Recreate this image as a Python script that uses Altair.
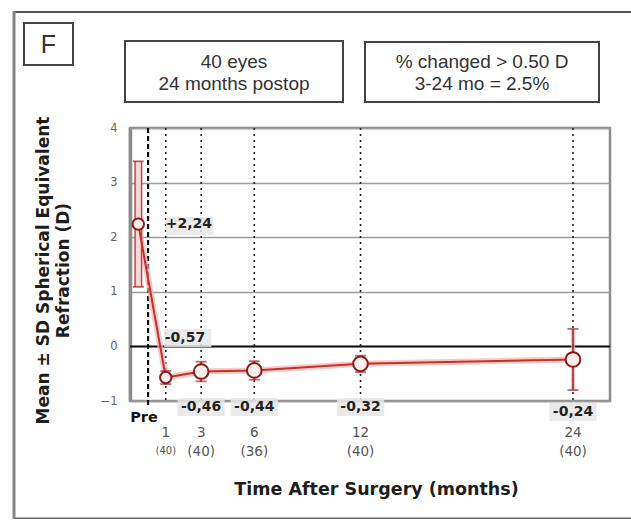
import altair as alt
import pandas as pd

# Mean spherical equivalent refraction (D) with SD at each visit.
# The preoperative mean is plotted just left of month 0.
point_month = [-0.55, 1, 3, 6, 12, 24]
mean_se = [2.24, -0.57, -0.46, -0.44, -0.32, -0.24]
sd_se = [1.15, 0.12, 0.18, 0.17, 0.15, 0.56]

# Visit labels on the time axis and number of eyes at each visit
tick_month = [0, 1, 3, 6, 12, 24]
tick_label = ["Pre", "1", "3", "6", "12", "24"]
eyes_count = ["", "(40)", "(40)", "(36)", "(40)", "(40)"]

y_ticks = [4, 3, 2, 1, 0, -1]

W, H = 480, 273
FONT = "DejaVu Sans"
BOX_FONT = "Liberation Sans"


def fmt(v):
    return f"{v:+.2f}".replace(".", ",")


pts = pd.DataFrame({
    "idx": list(range(len(mean_se))),
    "month": point_month,
    "mean": mean_se,
    "lo": [m - s for m, s in zip(mean_se, sd_se)],
    "hi": [m + s for m, s in zip(mean_se, sd_se)],
    "label": [fmt(v) for v in mean_se],
})
ticks = pd.DataFrame({
    "idx": list(range(len(tick_month))),
    "month": tick_month,
    "tick": tick_label,
    "count": eyes_count,
})
one = pd.DataFrame({"k": [0]})

x_scale = alt.Scale(domain=[-1.02, 26.09], nice=False, zero=False)
y_scale = alt.Scale(domain=[-1, 4], nice=False, zero=False)

x_enc = alt.X(
    "month:Q", scale=x_scale,
    axis=alt.Axis(labels=False, ticks=False, domain=False, grid=False,
                  title="Time After Surgery (months)", titleFont=FONT,
                  titleFontSize=17.5, titleFontWeight="bold", titleColor="#1e1e1e",
                  titleX=246, titleY=88, titleBaseline="middle"),
)
y_axis = alt.Axis(
    values=y_ticks, format="d", ticks=False, labelPadding=13,
    labelColor="#666666", labelFontSize=11.5, labelFont=FONT,
    grid=True, gridColor="#9c9c9c", gridWidth=1.5,
    domainColor="#8c8c8c", domainWidth=3.5,
    title=["Mean \u00b1 SD Spherical Equivalent", "Refraction (D)"],
    titleFont=FONT, titleFontSize=17, titleFontWeight="bold", titleColor="#1e1e1e",
    titleAngle=-90, titleX=-95, titleY=142, titleAlign="center",
    titleBaseline="top", titleLineHeight=20,
)
y_enc = alt.Y("mean:Q", scale=y_scale, axis=y_axis)

# ---- figure frame (open on the right), drawn as thin filled bands ----
frame_top = alt.Chart(one).mark_rect(color="#555555").encode(
    x=alt.value(-116), x2=alt.value(W + 21), y=alt.value(-117), y2=alt.value(-115))
frame_bottom = alt.Chart(one).mark_rect(color="#666666").encode(
    x=alt.value(-116), x2=alt.value(W + 21), y=alt.value(389.5), y2=alt.value(391))
frame_left = alt.Chart(one).mark_rect(color="#858585").encode(
    x=alt.value(-117.5), x2=alt.value(-114.5), y=alt.value(-117), y2=alt.value(391))

# ---- panel letter and annotation boxes ----
letter_box = alt.Chart(one).mark_rect(fill="white", stroke="#444444", strokeWidth=2).encode(
    x=alt.value(-106), x2=alt.value(-57), y=alt.value(-105), y2=alt.value(-63))
letter = alt.Chart(one).mark_text(text="F", font=BOX_FONT, fontSize=25, color="#333333",
                                   baseline="middle", align="center").encode(
    x=alt.value(-81.5), y=alt.value(-83))

box_text_style = dict(font=BOX_FONT, fontSize=19, color="#333333", lineHeight=22,
                      baseline="middle", align="center")
box1 = alt.Chart(one).mark_rect(fill="white", stroke="#444444", strokeWidth=2).encode(
    x=alt.value(-5), x2=alt.value(213), y=alt.value(-87), y2=alt.value(-26))
box1_text = alt.Chart(one).mark_text(text=["40 eyes", "24 months postop"], **box_text_style).encode(
    x=alt.value(104), y=alt.value(-66))
box2 = alt.Chart(one).mark_rect(fill="white", stroke="#444444", strokeWidth=2).encode(
    x=alt.value(235), x2=alt.value(469), y=alt.value(-86), y2=alt.value(-26))
box2_text = alt.Chart(one).mark_text(text=["% changed > 0.50 D", "3-24 mo = 2.5%"], **box_text_style).encode(
    x=alt.value(352), y=alt.value(-66))

# ---- plot grid: y gridlines via the axis, visit lines, zero line ----
grid_base = alt.Chart(pts).mark_point(opacity=0).encode(x=x_enc, y=y_enc)

visit_lines = alt.Chart(ticks).transform_filter("datum.month > 0").mark_rule(
    color="#222222", strokeWidth=1.6, strokeDash=[2, 4]).encode(
    x=x_enc, y=alt.value(0), y2=alt.value(H))
pre_line = alt.Chart(ticks).transform_filter("datum.month == 0").mark_rule(
    color="#111111", strokeWidth=2.2, strokeDash=[5, 3]).encode(
    x=x_enc, y=alt.value(0), y2=alt.value(H + 4))
zero_line = alt.Chart(one).mark_rule(color="#111111", strokeWidth=2).encode(
    x=alt.value(0), x2=alt.value(W), y=alt.datum(0))

# ---- mean line with a soft halo ----
halo = alt.Chart(pts).mark_line(color="#f3b3b3", strokeWidth=6, opacity=0.7).encode(x=x_enc, y=y_enc)
line = alt.Chart(pts).mark_line(color="#c8302d", strokeWidth=2).encode(x=x_enc, y=y_enc)

# ---- SD error bars ----
pre_bar_outer = alt.Chart(pts).transform_filter("datum.idx == 0").mark_rule(
    color="#c04545", strokeWidth=8).encode(x=x_enc, y=alt.Y("lo:Q", scale=y_scale), y2="hi:Q")
pre_bar_inner = alt.Chart(pts).transform_filter("datum.idx == 0").mark_rule(
    color="#f9d9d9", strokeWidth=5).encode(x=x_enc, y=alt.Y("lo:Q", scale=y_scale), y2="hi:Q")
bar_halo = alt.Chart(pts).transform_filter("datum.idx > 0").mark_rule(
    color="#f3b3b3", strokeWidth=4, opacity=0.7).encode(x=x_enc, y=alt.Y("lo:Q", scale=y_scale), y2="hi:Q")
bars = alt.Chart(pts).transform_filter("datum.idx > 0").mark_rule(
    color="#a82a2a", strokeWidth=1.6).encode(x=x_enc, y=alt.Y("lo:Q", scale=y_scale), y2="hi:Q")
caps_lo = alt.Chart(pts).mark_tick(orient="horizontal", color="#a82a2a", size=11, thickness=1.8).encode(
    x=x_enc, y=alt.Y("lo:Q", scale=y_scale))
caps_hi = alt.Chart(pts).mark_tick(orient="horizontal", color="#a82a2a", size=11, thickness=1.8).encode(
    x=x_enc, y=alt.Y("hi:Q", scale=y_scale))

# ---- markers ----
dots_small = alt.Chart(pts).transform_filter("datum.idx < 2").mark_point(
    shape="circle", filled=True, fill="#fdeeee", stroke="#8b1c1c", strokeWidth=2, size=130, opacity=1).encode(
    x=x_enc, y=y_enc)
dots = alt.Chart(pts).transform_filter("datum.idx >= 2").mark_point(
    shape="circle", filled=True, fill="#fdeeee", stroke="#8b1c1c", strokeWidth=2, size=215, opacity=1).encode(
    x=x_enc, y=y_enc)

# ---- value labels (faint boxes behind bold numbers) ----
RECT = "M-2.6,-1H2.6V1H-2.6Z"
lab_style = dict(font=FONT, fontSize=14, fontWeight="bold", color="#222222", baseline="middle")
bg_style = dict(shape=RECT, filled=True, color="#e6e6e6", opacity=0.85, size=330)

tick_x1 = alt.X("m1:Q", scale=x_scale)
lab_pre_bg = alt.Chart(pts).transform_filter("datum.idx == 0").transform_calculate(m1="1").mark_point(
    **bg_style).encode(x=tick_x1, xOffset=alt.value(24), y=alt.value(98))
lab_pre = alt.Chart(pts).transform_filter("datum.idx == 0").transform_calculate(m1="1").mark_text(
    align="left", dx=0, **lab_style).encode(x=tick_x1, y=alt.Y("mean:Q", scale=y_scale), text="label:N")
lab_m1_bg = alt.Chart(pts).transform_filter("datum.idx == 1").mark_point(
    **bg_style).encode(x=x_enc, xOffset=alt.value(22), y=alt.value(210))
lab_m1 = alt.Chart(pts).transform_filter("datum.idx == 1").mark_text(
    align="left", dx=-1, **lab_style).encode(x=x_enc, y=alt.value(210), text="label:N")
lab_rest_bg = alt.Chart(pts).transform_filter("datum.idx >= 2 && datum.idx < 5").mark_point(
    **bg_style).encode(x=x_enc, y=alt.value(279))
lab_rest = alt.Chart(pts).transform_filter("datum.idx >= 2 && datum.idx < 5").mark_text(
    align="center", **lab_style).encode(x=x_enc, y=alt.value(279), text="label:N")
lab_last_bg = alt.Chart(pts).transform_filter("datum.idx == 5").mark_point(
    **bg_style).encode(x=x_enc, y=alt.value(284))
lab_last = alt.Chart(pts).transform_filter("datum.idx == 5").mark_text(
    align="center", **lab_style).encode(x=x_enc, y=alt.value(284), text="label:N")

# ---- visit labels and eye counts under the axis ----
pre_tick = alt.Chart(ticks).transform_filter("datum.idx == 0").mark_text(
    font=FONT, fontSize=14.5, fontWeight="bold", color="#111111", align="center", baseline="middle", dx=-4).encode(
    x=x_enc, y=alt.value(290), text="tick:N")
num_ticks = alt.Chart(ticks).transform_filter("datum.idx > 0").mark_text(
    font=FONT, fontSize=13.5, color="#555555", align="center", baseline="middle").encode(
    x=x_enc, y=alt.value(305), text="tick:N")
count_first = alt.Chart(ticks).transform_filter("datum.idx == 1").mark_text(
    font=FONT, fontSize=10, color="#555555", align="center", baseline="middle").encode(
    x=x_enc, y=alt.value(323), text="count:N")
counts = alt.Chart(ticks).transform_filter("datum.idx > 1").mark_text(
    font=FONT, fontSize=13.5, color="#555555", align="center", baseline="middle").encode(
    x=x_enc, y=alt.value(324), text="count:N")

chart = alt.layer(
    frame_top, frame_bottom, frame_left, letter_box, letter, box1, box1_text, box2, box2_text,
    grid_base, visit_lines, pre_line, zero_line,
    halo, bar_halo, pre_bar_outer, pre_bar_inner, bars, caps_lo, caps_hi, line,
    dots_small, dots,
    lab_pre_bg, lab_pre, lab_m1_bg, lab_m1, lab_rest_bg, lab_rest, lab_last_bg, lab_last,
    pre_tick, num_ticks, count_first, counts,
).properties(
    width=W, height=H,
    autosize=alt.AutoSizeParams(type="none"),
    padding={"left": 130, "top": 128, "right": 21, "bottom": 119},
    background="white",
).configure_view(stroke="#8c8c8c", strokeWidth=2.5)

chart.save("out.html", embed_options={"renderer": "svg", "actions": False})
